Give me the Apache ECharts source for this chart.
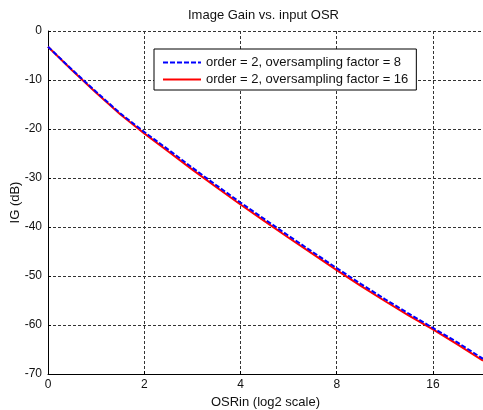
<!DOCTYPE html>
<html>
<head>
<meta charset="utf-8">
<script src="https://cdn.jsdelivr.net/npm/echarts@6/dist/echarts.min.js"></script>
<style>html,body{margin:0;padding:0;background:#fff;}#c{width:483px;height:410px;}</style>
</head>
<body>
<div id="c"></div>
<script>
// x positions in log2 units (0..4 labelled 0,2,4,8,16)
var osrPos = [0, 0.25, 0.5, 0.75, 1.0, 1.25, 1.5, 1.75, 2.0, 2.25, 2.5, 2.75, 3.0, 3.25, 3.5, 3.75, 4.0, 4.25, 4.52];
var igFactor16 = [-3.2, -8.0, -12.6, -17.0, -20.9, -24.6, -28.3, -31.9, -35.4, -38.8, -42.2, -45.5, -48.8, -52.0, -55.1, -58.1, -60.9, -63.9, -67.3];
var igFactor8 = [-3.2, -7.9, -12.4, -16.8, -20.6, -24.2, -27.9, -31.5, -35.0, -38.4, -41.8, -45.1, -48.4, -51.6, -54.7, -57.7, -60.6, -63.5, -66.9];
var xTickLabels = ['0', '2', '4', '8', '16'];
var seriesNames = ['order = 2, oversampling factor = 8', 'order = 2, oversampling factor = 16'];

function pairs(xs, ys) { return xs.map(function (x, i) { return [x, ys[i]]; }); }

var FONT = 'Liberation Sans';
var chart = echarts.init(document.getElementById('c'));
var gridLine = { show: true, lineStyle: { color: '#333', type: [3, 2], width: 1 } };
chart.setOption({
  animation: false,
  backgroundColor: '#fff',
  title: {
    text: 'Image Gain vs. input OSR',
    left: 188, top: 9, padding: 0,
    textStyle: { fontFamily: FONT, fontSize: 13, fontWeight: 'normal', color: '#111' }
  },
  grid: { left: 48, top: 31, right: 0, bottom: 36, containLabel: false, outerBoundsMode: 'none' },
  legend: {
    orient: 'vertical',
    left: 154, top: 49,
    padding: [7, 8, 4, 8],
    itemWidth: 38, itemHeight: 14, itemGap: 4,
    backgroundColor: '#fff',
    borderColor: '#000', borderWidth: 1,
    itemStyle: { opacity: 0 },
    textStyle: { fontFamily: FONT, fontSize: 13, color: '#111' },
    data: seriesNames
  },
  xAxis: {
    type: 'value', min: 0, max: 4.52, interval: 1,
    name: 'OSRin (log2 scale)', nameLocation: 'middle', nameGap: 21,
    nameTextStyle: { fontFamily: FONT, fontSize: 13, color: '#111' },
    axisLine: { show: true, onZero: false, lineStyle: { color: '#000', width: 1 } },
    axisTick: { show: true, inside: true, length: 3, lineStyle: { color: '#000' } },
    axisLabel: {
      fontFamily: FONT, fontSize: 12, color: '#111', margin: 5, showMaxLabel: false,
      formatter: function (v) { var i = Math.round(v); return Math.abs(v - i) < 1e-6 && xTickLabels[i] !== undefined ? xTickLabels[i] : ''; }
    },
    splitLine: gridLine
  },
  yAxis: {
    type: 'value', min: -70, max: 0, interval: 10,
    name: 'IG (dB)', nameLocation: 'middle', nameGap: 26, nameMoveOverlap: false,
    nameTextStyle: { fontFamily: FONT, fontSize: 13, color: '#111' },
    axisLine: { show: true, onZero: false, lineStyle: { color: '#000', width: 1 } },
    axisTick: { show: true, inside: true, length: 3, lineStyle: { color: '#000' } },
    axisLabel: { fontFamily: FONT, fontSize: 12, color: '#111', margin: 6 },
    splitLine: gridLine
  },
  series: [
    {
      name: seriesNames[0], type: 'line', symbol: 'none', smooth: false, z: 3,
      data: pairs(osrPos, igFactor8),
      lineStyle: { color: '#0000ff', width: 2, type: [5, 2] },
      itemStyle: { color: '#0000ff' }
    },
    {
      name: seriesNames[1], type: 'line', symbol: 'none', smooth: false, z: 2,
      data: pairs(osrPos, igFactor16),
      lineStyle: { color: '#ff0000', width: 2, type: 'solid' },
      itemStyle: { color: '#ff0000' }
    }
  ]
});
</script>
</body>
</html>
